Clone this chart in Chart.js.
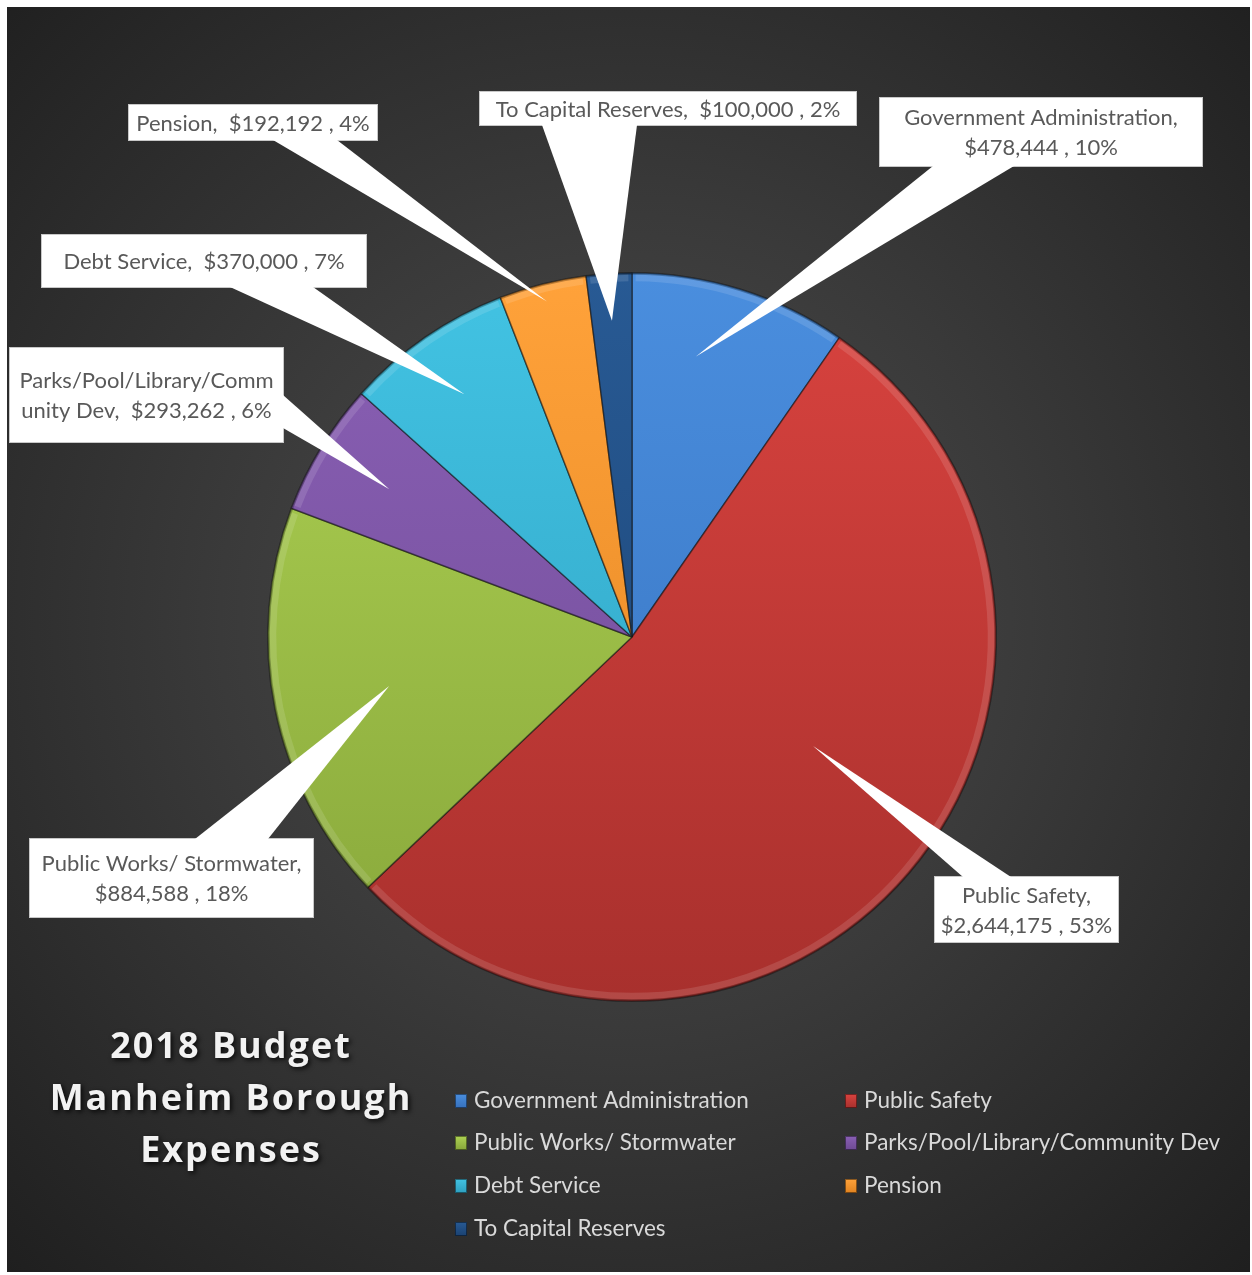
<!DOCTYPE html>
<html>
<head>
<meta charset="utf-8">
<script src="https://cdn.jsdelivr.net/npm/chart.js@4.4.1/dist/chart.umd.min.js"></script>
<style>
  html,body{margin:0;padding:0;background:#fff;}
  #wrap{position:relative;width:1252px;height:1275px;}
</style>
</head>
<body>
<div id="wrap"><canvas id="c" width="1252" height="1275"></canvas></div>
<script>
// ---- DATA ----
const categories = [
  "Government Administration",
  "Public Safety",
  "Public Works/ Stormwater",
  "Parks/Pool/Library/Community Dev",
  "Debt Service",
  "Pension",
  "To Capital Reserves"
];
const expenses = [478444, 2644175, 884588, 293262, 370000, 192192, 100000];
const chartTitle = ["2018 Budget", "Manheim Borough", "Expenses"];

// ---- STYLE ----
const sliceTop    = ["#4a8ede", "#d9433f", "#aed253", "#8a60b5", "#42c3e3", "#ffa23a", "#285a94"];
const sliceBottom = ["#3671bd", "#a8302d", "#87a63a", "#6e4a94", "#2e9fbf", "#e08320", "#1a4272"];
const sliceBase   = ["#4285d6", "#c93c39", "#9dc044", "#7d56a6", "#3ab4d6", "#f59528", "#214d82"];
const FONT = 'Lato, "Open Sans", "DejaVu Sans", sans-serif';

// callout box layout (pixel layout of annotation boxes), tip = fraction of radius, at = fraction along slice
const calloutLayout = [
  {box:[879, 97, 324, 70],  base:[933, 1014, 'bottom'], tip:0.79, at:0.37, wrap:'name'},
  {box:[934, 876, 185, 67], base:[963, 1011, 'top'],    tip:0.58, at:0.45, wrap:'name'},
  {box:[29, 838, 285, 80],  base:[195, 268, 'top'],     tip:0.68, at:0.5,  wrap:'name'},
  {box:[9, 347, 275, 96],   base:[395, 428, 'right'],   tip:0.78, at:0.5,  wrap:23},
  {box:[41, 234, 326, 54],  base:[230, 313, 'bottom'],  tip:0.81, at:0.5,  wrap:'none'},
  {box:[128, 104, 250, 37], base:[273, 337, 'bottom'],  tip:0.95, at:0.5,  wrap:'none'},
  {box:[479, 91, 378, 35],  base:[542, 637, 'bottom'],  tip:0.87, at:0.5,  wrap:'none'}
];

const total = expenses.reduce((a,b)=>a+b,0);
function labelLines(i){
  const pct = Math.round(expenses[i]/total*100);
  const money = "$" + expenses[i].toLocaleString('en-US');
  const w = calloutLayout[i].wrap;
  if (w === 'name') return [categories[i] + ",", money + " , " + pct + "%"];
  const full = categories[i] + ",  " + money + " , " + pct + "%";
  if (typeof w === 'number') return [full.slice(0,w), full.slice(w)];
  return [full];
}

const bgPlugin = {
  id:'bg',
  beforeDraw(chart){
    const ctx = chart.ctx;
    ctx.save();
    ctx.fillStyle = '#ffffff';
    ctx.fillRect(0,0,chart.width,chart.height);
    const g = ctx.createRadialGradient(625, 620, 0, 625, 620, 900);
    g.addColorStop(0, '#4e4e4e');
    g.addColorStop(0.45, '#3a3a3a');
    g.addColorStop(1, '#1f1f1f');
    ctx.fillStyle = g;
    ctx.fillRect(7, 7, 1243, 1265);
    ctx.restore();
  }
};

const bevelPlugin = {
  id:'bevel',
  afterDatasetsDraw(chart){
    const ctx = chart.ctx;
    const meta = chart.getDatasetMeta(0);
    meta.data.forEach((arc)=>{
      const p = arc.getProps(['x','y','startAngle','endAngle','outerRadius'], true);
      ctx.save();
      ctx.beginPath();
      ctx.arc(p.x, p.y, p.outerRadius - 5, p.startAngle + 0.01, p.endAngle - 0.01);
      ctx.lineWidth = 7;
      ctx.strokeStyle = 'rgba(255,255,255,0.12)';
      ctx.stroke();
      ctx.beginPath();
      ctx.arc(p.x, p.y, p.outerRadius - 1, p.startAngle, p.endAngle);
      ctx.lineWidth = 2;
      ctx.strokeStyle = 'rgba(0,0,0,0.25)';
      ctx.stroke();
      ctx.restore();
    });
  }
};

const calloutPlugin = {
  id:'callouts',
  afterDraw(chart){
    const ctx = chart.ctx;
    const meta = chart.getDatasetMeta(0);
    meta.data.forEach((arc, i)=>{
      const L = calloutLayout[i];
      const p = arc.getProps(['x','y','startAngle','endAngle','outerRadius'], true);
      const a = p.startAngle + (p.endAngle - p.startAngle) * L.at;
      const tx = p.x + Math.cos(a) * p.outerRadius * L.tip;
      const ty = p.y + Math.sin(a) * p.outerRadius * L.tip;
      const [bx, by, bw, bh] = L.box;
      let b1, b2;
      if (L.base[2] === 'bottom') { b1 = [L.base[0], by+bh-1]; b2 = [L.base[1], by+bh-1]; }
      else if (L.base[2] === 'top') { b1 = [L.base[0], by+1]; b2 = [L.base[1], by+1]; }
      else { b1 = [bx+bw-1, L.base[0]]; b2 = [bx+bw-1, L.base[1]]; }
      ctx.save();
      ctx.fillStyle = '#ffffff';
      ctx.fillRect(bx, by, bw, bh);
      ctx.strokeStyle = '#c8c8c8';
      ctx.lineWidth = 1;
      ctx.strokeRect(bx+0.5, by+0.5, bw-1, bh-1);
      ctx.beginPath();
      ctx.moveTo(b1[0], b1[1]);
      ctx.lineTo(tx, ty);
      ctx.lineTo(b2[0], b2[1]);
      ctx.closePath();
      ctx.fill();
      const lines = labelLines(i);
      ctx.fillStyle = '#595959';
      ctx.font = '22px ' + FONT;
      ctx.textAlign = 'center';
      ctx.textBaseline = 'middle';
      const lh = 30;
      const cy = by + bh/2 + 1 - (lines.length-1)*lh/2;
      lines.forEach((t, k)=> ctx.fillText(t, bx + bw/2, cy + k*lh));
      ctx.restore();
    });
  }
};

const legendTitlePlugin = {
  id:'legendTitle',
  afterDraw(chart){
    const ctx = chart.ctx;
    ctx.save();
    ctx.font = 'bold 36px "Open Sans", ' + FONT;
    if ('letterSpacing' in ctx) ctx.letterSpacing = '2px';
    ctx.textAlign = 'center';
    ctx.textBaseline = 'middle';
    ctx.shadowColor = 'rgba(0,0,0,0.8)';
    ctx.shadowBlur = 5;
    ctx.shadowOffsetX = 2;
    ctx.shadowOffsetY = 2;
    ctx.fillStyle = '#f2f2f2';
    chartTitle.forEach((t,k)=> ctx.fillText(t, 231, 1048 + k*52));
    ctx.restore();
    ctx.save();
    if ('letterSpacing' in ctx) ctx.letterSpacing = '0px';
    ctx.font = '22.5px ' + FONT;
    ctx.textBaseline = 'middle';
    ctx.textAlign = 'left';
    const colX = [455, 845];
    const rowY = [1101, 1143, 1186, 1229];
    categories.forEach((name, i)=>{
      const x = colX[i % 2], y = rowY[Math.floor(i/2)];
      const g = ctx.createLinearGradient(0, y-7, 0, y+7);
      g.addColorStop(0, sliceTop[i]);
      g.addColorStop(1, sliceBottom[i]);
      ctx.fillStyle = g;
      ctx.fillRect(x, y-7, 12, 14);
      ctx.strokeStyle = 'rgba(0,0,0,0.45)';
      ctx.lineWidth = 1;
      ctx.strokeRect(x+0.5, y-6.5, 11, 13);
      ctx.fillStyle = '#d9d9d9';
      ctx.fillText(name, x + 19, y);
    });
    ctx.restore();
  }
};

new Chart(document.getElementById('c'), {
  type: 'pie',
  data: {
    labels: categories,
    datasets: [{
      data: expenses,
      backgroundColor: (c) => {
        const chart = c.chart;
        const area = chart.chartArea;
        if (!area) return sliceBase[c.dataIndex];
        const g = chart.ctx.createLinearGradient(0, area.top, 0, area.bottom);
        g.addColorStop(0, sliceTop[c.dataIndex]);
        g.addColorStop(1, sliceBottom[c.dataIndex]);
        return g;
      },
      borderColor: 'rgba(20,20,20,0.55)',
      borderWidth: 1.5
    }]
  },
  options: {
    responsive: false,
    animation: false,
    devicePixelRatio: 1,
    layout: { padding: { left: 267, right: 255, top: 272, bottom: 273 } },
    plugins: {
      legend: { display: false },
      tooltip: { enabled: false },
      title: { display: false }
    }
  },
  plugins: [bgPlugin, bevelPlugin, calloutPlugin, legendTitlePlugin]
});
</script>
</body>
</html>
